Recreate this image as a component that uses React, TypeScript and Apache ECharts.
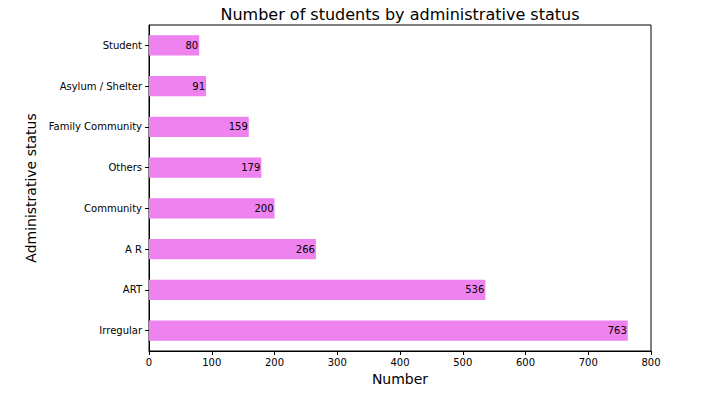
import React, { useEffect, useRef } from "react";
import * as echarts from "echarts";

const categories = ["Irregular", "ART", "A R", "Community", "Others", "Family Community", "Asylum / Shelter", "Student"];
const counts = [763, 536, 266, 200, 179, 159, 91, 80];
const xTicks = { min: 0, max: 800, interval: 100 };

export default function App() {
  const ref = useRef<HTMLDivElement>(null);
  useEffect(() => {
    const chart = echarts.init(ref.current!, null, { renderer: "svg" });
    const font = "DejaVu Sans";
    chart.setOption({
      animation: false,
      textStyle: { fontFamily: font },
      graphic: [
        {
          type: "text",
          x: 400,
          y: 6,
          style: {
            text: "Number of students by administrative status",
            font: `16px '${font}'`,
            fill: "#000",
            textAlign: "center",
            textVerticalAlign: "top",
          },
        },
      ],
      grid: {
        left: 149,
        right: 77,
        top: 25,
        bottom: 48,
        show: true,
        borderColor: "#000",
        borderWidth: 1,
        backgroundColor: "transparent",
      },
      xAxis: {
        type: "value",
        min: xTicks.min,
        max: xTicks.max,
        interval: xTicks.interval,
        name: "Number",
        nameLocation: "middle",
        nameGap: 19,
        nameTextStyle: { fontSize: 14, color: "#000", fontFamily: font },
        axisLine: { show: true, lineStyle: { color: "#000", width: 1 } },
        axisTick: { show: true, length: 4, lineStyle: { color: "#000" } },
        axisLabel: { fontSize: 10, color: "#000", margin: 6, fontFamily: font },
        splitLine: { show: false },
      },
      yAxis: {
        type: "category",
        data: categories,
        name: "Administrative status",
        nameLocation: "middle",
        nameGap: 102,
        nameTextStyle: { fontSize: 14, color: "#000", fontFamily: font },
        axisLine: { show: true, lineStyle: { color: "#000", width: 1 } },
        axisTick: { show: true, length: 4, alignWithLabel: true, lineStyle: { color: "#000" } },
        axisLabel: { fontSize: 10, color: "#000", margin: 7, fontFamily: font },
        splitLine: { show: false },
      },
      series: [
        {
          type: "bar",
          data: counts,
          barWidth: "50%",
          itemStyle: { color: "#ee82ee" },
          label: {
            show: true,
            position: "insideRight",
            distance: 1,
            color: "#000",
            fontSize: 10,
            fontFamily: font,
          },
        },
      ],
    });
    return () => chart.dispose();
  }, []);
  return (
    <div
      ref={ref}
      style={{ position: "absolute", left: 0, top: 0, width: 728, height: 399, background: "#fff" }}
    />
  );
}
